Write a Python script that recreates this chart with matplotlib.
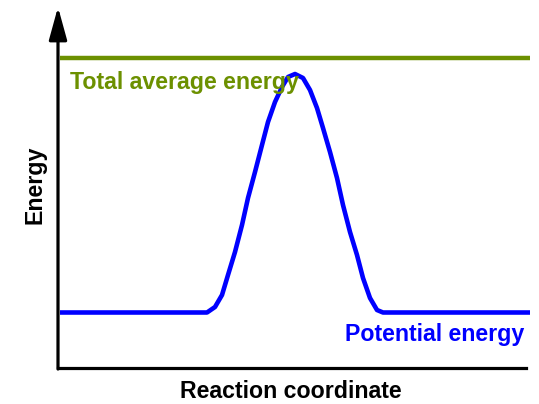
import matplotlib
matplotlib.use('Agg')
import matplotlib.pyplot as plt

plt.rcParams['font.family'] = ['Liberation Sans', 'DejaVu Sans']

# values (x: reaction coordinate, y: energy)
pot_x = [2, 149, 157, 164, 170, 177, 184, 190, 197, 204, 210, 217, 224, 230,
         237, 245, 252, 259, 265, 272, 279, 285, 292, 299, 305, 312, 319, 325, 472]
pot_y = [55.5, 55.5, 61, 73, 93, 116, 143, 170, 196, 223, 246, 266, 281, 291,
         294, 290, 278, 260, 240, 216, 190, 163, 136, 113, 90, 70, 58, 55.5, 55.5]
total_x = [2, 472]
total_y = [310, 310]

green = '#6c9000'
blue = '#0000ff'

fig = plt.figure(figsize=(5.39, 4.04), dpi=100)
ax = fig.add_axes([0, 0, 1, 1])
ax.set_xlim(-58, 481)
ax.set_ylim(-36, 368)
ax.axis('off')

# axes lines
ax.plot([0, 468], [0, 0], color='black', lw=2.3, solid_capstyle='projecting')
ax.annotate('', xy=(0, 361), xytext=(0, -1),
            arrowprops=dict(arrowstyle='-|>,head_length=2.0,head_width=0.55',
                            color='black', lw=2.3, shrinkA=0, shrinkB=0))

ax.plot(total_x, total_y, color=green, lw=3.2, solid_capstyle='butt')
ax.plot(pot_x, pot_y, color=blue, lw=3.3, solid_joinstyle='round',
        solid_capstyle='butt')

fs = 16.7
ax.text(12, 285, 'Total average energy', color=green, fontsize=fs,
        fontweight='bold', va='center', ha='left')
ax.text(466, 33, 'Potential energy', color=blue, fontsize=fs,
        fontweight='bold', va='center', ha='right')
ax.text(233, -24, 'Reaction coordinate', color='black', fontsize=fs,
        fontweight='bold', va='center', ha='center')
ax.text(-23, 183, 'Energy', color='black', fontsize=fs, fontweight='bold',
        va='center', ha='center', rotation=90)

fig.savefig('out.png', dpi=100)
